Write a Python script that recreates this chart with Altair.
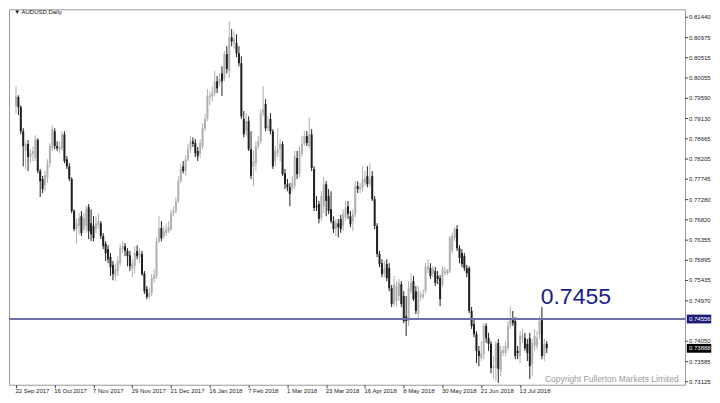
import altair as alt
import pandas as pd

# ---- data (AUDUSD daily, bar index 0 = 22 Sep 2017) ----
opens = [0.7941,0.7962,0.7939,0.7884,0.7839,0.7855,0.7825,0.7832,0.7823,0.7864,
         0.7793,0.7775,0.7761,0.7779,0.7811,0.7845,0.7884,0.7850,0.7843,0.7845,
         0.7877,0.7820,0.7804,0.7775,0.7702,0.7661,0.7668,0.7690,0.7661,0.7668,
         0.7711,0.7674,0.7668,0.7661,0.7670,0.7674,0.7645,0.7627,0.7615,0.7597,
         0.7579,0.7554,0.7565,0.7583,0.7615,0.7622,0.7611,0.7601,0.7570,0.7576,
         0.7611,0.7597,0.7604,0.7560,0.7524,0.7506,0.7515,0.7547,0.7554,0.7633,
         0.7663,0.7645,0.7652,0.7656,0.7661,0.7697,0.7702,0.7725,0.7770,0.7804,
         0.7793,0.7820,0.7843,0.7861,0.7857,0.7839,0.7832,0.7850,0.7891,0.7912,
         0.7962,0.7964,0.7971,0.7998,0.7994,0.8016,0.8003,0.8060,0.8021,0.8098,
         0.8085,0.8085,0.8062,0.8039,0.7912,0.7884,0.7907,0.7843,0.7804,0.7811,
         0.7850,0.7861,0.7925,0.7946,0.7891,0.7912,0.7884,0.7816,0.7834,0.7843,
         0.7855,0.7788,0.7763,0.7756,0.7754,0.7759,0.7823,0.7786,0.7832,0.7855,
         0.7873,0.7850,0.7877,0.7798,0.7713,0.7718,0.7686,0.7713,0.7763,0.7736,
         0.7706,0.7679,0.7661,0.7674,0.7684,0.7668,0.7688,0.7713,0.7690,0.7679,
         0.7695,0.7759,0.7752,0.7754,0.7766,0.7782,0.7763,0.7782,0.7729,0.7668,
         0.7604,0.7583,0.7560,0.7581,0.7572,0.7526,0.7490,0.7497,0.7508,0.7535,
         0.7508,0.7462,0.7451,0.7519,0.7542,0.7519,0.7467,0.7506,0.7506,0.7519,
         0.7570,0.7572,0.7558,0.7565,0.7554,0.7549,0.7535,0.7560,0.7560,0.7565,
         0.7611,0.7640,0.7661,0.7617,0.7606,0.7599,0.7572,0.7572,0.7474,0.7444,
         0.7421,0.7383,0.7367,0.7376,0.7440,0.7412,0.7399,0.7344,0.7344,0.7401,
         0.7337,0.7378,0.7378,0.7389,0.7440,0.7458,0.7451,0.7383,0.7371,0.7410,
         0.7412,0.7399,0.7412,0.7353,0.7394,0.7394,0.7421,0.7458,0.7371,0.7399]
highs = [0.7987,0.7966,0.7943,0.7891,0.7861,0.7864,0.7843,0.7850,0.7875,0.7868,
         0.7798,0.7782,0.7793,0.7820,0.7857,0.7898,0.7891,0.7861,0.7861,0.7884,
         0.7884,0.7827,0.7811,0.7779,0.7706,0.7684,0.7697,0.7702,0.7697,0.7715,
         0.7718,0.7706,0.7690,0.7690,0.7697,0.7679,0.7652,0.7633,0.7624,0.7606,
         0.7588,0.7583,0.7599,0.7627,0.7633,0.7629,0.7617,0.7611,0.7592,0.7622,
         0.7624,0.7617,0.7611,0.7565,0.7531,0.7528,0.7558,0.7570,0.7642,0.7690,
         0.7679,0.7668,0.7674,0.7679,0.7706,0.7713,0.7734,0.7782,0.7809,0.7816,
         0.7829,0.7855,0.7873,0.7870,0.7866,0.7848,0.7866,0.7902,0.7923,0.7980,
         0.7975,0.7987,0.8021,0.8010,0.8016,0.8032,0.8067,0.8078,0.8135,0.8117,
         0.8112,0.8105,0.8078,0.8055,0.7930,0.7925,0.7918,0.7884,0.7839,0.7861,
         0.7873,0.7934,0.7987,0.7957,0.7918,0.7925,0.7889,0.7850,0.7891,0.7866,
         0.7861,0.7798,0.7775,0.7766,0.7782,0.7839,0.7839,0.7850,0.7873,0.7884,
         0.7884,0.7916,0.7889,0.7804,0.7736,0.7725,0.7747,0.7779,0.7770,0.7752,
         0.7747,0.7690,0.7684,0.7684,0.7693,0.7706,0.7725,0.7725,0.7702,0.7706,
         0.7770,0.7770,0.7766,0.7804,0.7793,0.7804,0.7811,0.7793,0.7736,0.7674,
         0.7611,0.7592,0.7588,0.7592,0.7583,0.7533,0.7554,0.7542,0.7547,0.7542,
         0.7519,0.7508,0.7542,0.7560,0.7554,0.7531,0.7531,0.7519,0.7524,0.7583,
         0.7592,0.7583,0.7576,0.7574,0.7565,0.7556,0.7576,0.7574,0.7570,0.7645,
         0.7652,0.7665,0.7670,0.7624,0.7615,0.7606,0.7579,0.7576,0.7483,0.7456,
         0.7428,0.7394,0.7405,0.7446,0.7446,0.7424,0.7405,0.7371,0.7405,0.7410,
         0.7394,0.7394,0.7405,0.7451,0.7485,0.7474,0.7460,0.7394,0.7428,0.7433,
         0.7424,0.7410,0.7424,0.7410,0.7433,0.7428,0.7462,0.7483,0.7410,0.7405]
lows = [0.7925,0.7921,0.7877,0.7804,0.7798,0.7793,0.7811,0.7816,0.7816,0.7788,
        0.7734,0.7743,0.7747,0.7766,0.7802,0.7839,0.7843,0.7839,0.7834,0.7839,
        0.7811,0.7798,0.7770,0.7697,0.7656,0.7627,0.7649,0.7645,0.7656,0.7652,
        0.7638,0.7633,0.7633,0.7652,0.7661,0.7638,0.7615,0.7588,0.7583,0.7554,
        0.7544,0.7542,0.7554,0.7576,0.7606,0.7599,0.7576,0.7565,0.7551,0.7560,
        0.7592,0.7583,0.7554,0.7513,0.7501,0.7501,0.7508,0.7538,0.7547,0.7629,
        0.7633,0.7638,0.7645,0.7652,0.7656,0.7690,0.7697,0.7720,0.7766,0.7788,
        0.7782,0.7816,0.7834,0.7848,0.7825,0.7816,0.7823,0.7843,0.7884,0.7907,
        0.7943,0.7953,0.7964,0.7971,0.7987,0.7964,0.7998,0.8016,0.8005,0.8078,
        0.8071,0.8053,0.8032,0.7912,0.7870,0.7873,0.7839,0.7775,0.7759,0.7793,
        0.7843,0.7855,0.7918,0.7884,0.7884,0.7877,0.7798,0.7804,0.7825,0.7816,
        0.7782,0.7752,0.7747,0.7713,0.7747,0.7752,0.7775,0.7779,0.7827,0.7850,
        0.7850,0.7845,0.7793,0.7702,0.7702,0.7674,0.7679,0.7697,0.7690,0.7695,
        0.7674,0.7652,0.7645,0.7642,0.7652,0.7656,0.7679,0.7684,0.7665,0.7656,
        0.7688,0.7743,0.7743,0.7747,0.7759,0.7756,0.7756,0.7725,0.7661,0.7597,
        0.7574,0.7551,0.7551,0.7542,0.7519,0.7483,0.7485,0.7485,0.7497,0.7483,
        0.7446,0.7417,0.7440,0.7513,0.7497,0.7467,0.7456,0.7497,0.7501,0.7513,
        0.7560,0.7547,0.7551,0.7531,0.7535,0.7485,0.7528,0.7556,0.7556,0.7560,
        0.7606,0.7633,0.7611,0.7583,0.7574,0.7565,0.7551,0.7469,0.7433,0.7414,
        0.7355,0.7348,0.7360,0.7364,0.7401,0.7383,0.7332,0.7319,0.7314,0.7310,
        0.7326,0.7371,0.7371,0.7383,0.7433,0.7440,0.7364,0.7364,0.7355,0.7401,
        0.7383,0.7360,0.7319,0.7326,0.7383,0.7387,0.7410,0.7364,0.7360,0.7378]
closes = [0.7964,0.7939,0.7884,0.7850,0.7855,0.7825,0.7834,0.7839,0.7866,0.7793,
          0.7770,0.7752,0.7784,0.7811,0.7850,0.7889,0.7850,0.7845,0.7848,0.7877,
          0.7816,0.7804,0.7775,0.7702,0.7661,0.7674,0.7686,0.7652,0.7686,0.7706,
          0.7656,0.7649,0.7640,0.7674,0.7679,0.7645,0.7622,0.7606,0.7592,0.7574,
          0.7558,0.7570,0.7588,0.7617,0.7622,0.7611,0.7599,0.7576,0.7583,0.7606,
          0.7599,0.7606,0.7558,0.7519,0.7506,0.7515,0.7549,0.7556,0.7633,0.7663,
          0.7640,0.7656,0.7661,0.7665,0.7697,0.7702,0.7725,0.7770,0.7798,0.7793,
          0.7820,0.7843,0.7861,0.7855,0.7834,0.7827,0.7857,0.7891,0.7912,0.7964,
          0.7966,0.7971,0.7998,0.7982,0.8003,0.7998,0.8060,0.8026,0.8098,0.8089,
          0.8094,0.8062,0.8039,0.7918,0.7877,0.7907,0.7843,0.7782,0.7816,0.7850,
          0.7861,0.7925,0.7934,0.7891,0.7896,0.7884,0.7804,0.7839,0.7843,0.7855,
          0.7786,0.7763,0.7756,0.7741,0.7766,0.7827,0.7786,0.7839,0.7855,0.7873,
          0.7857,0.7877,0.7800,0.7709,0.7711,0.7684,0.7736,0.7763,0.7725,0.7702,
          0.7679,0.7661,0.7674,0.7665,0.7661,0.7695,0.7709,0.7695,0.7672,0.7695,
          0.7759,0.7752,0.7756,0.7775,0.7777,0.7763,0.7775,0.7729,0.7668,0.7604,
          0.7581,0.7558,0.7570,0.7549,0.7526,0.7490,0.7535,0.7531,0.7538,0.7490,
          0.7451,0.7451,0.7526,0.7538,0.7501,0.7474,0.7519,0.7510,0.7513,0.7576,
          0.7576,0.7554,0.7570,0.7538,0.7547,0.7501,0.7570,0.7565,0.7567,0.7640,
          0.7645,0.7661,0.7617,0.7595,0.7581,0.7572,0.7560,0.7474,0.7440,0.7421,
          0.7383,0.7371,0.7378,0.7440,0.7412,0.7399,0.7344,0.7348,0.7399,0.7342,
          0.7383,0.7385,0.7394,0.7440,0.7458,0.7446,0.7371,0.7378,0.7417,0.7419,
          0.7389,0.7378,0.7348,0.7401,0.7417,0.7412,0.7451,0.7371,0.7399,0.7389]

date_labels = ["22 Sep 2017", "16 Oct 2017", "7 Nov 2017", "29 Nov 2017", "21 Dec 2017",
               "16 Jan 2018", "7 Feb 2018", "1 Mar 2018", "23 Mar 2018", "16 Apr 2018",
               "8 May 2018", "30 May 2018", "21 Jun 2018", "13 Jul 2018"]
bars_per_label = 16
price_ticks = [0.81440, 0.80975, 0.80515, 0.80055, 0.79590, 0.79130, 0.78665, 0.78205,
               0.77745, 0.77280, 0.76820, 0.76355, 0.75895, 0.75435, 0.74970, 0.74050,
               0.73585, 0.73125]
level = 0.74556
last_price = 0.73888
level_text = "0.7455"
symbol_text = "\u25BC AUDUSD,Daily"
copyright_text = "Copyright Fullerton Markets Limited"

FONT = "Liberation Sans"
W, H = 677, 376

df = pd.DataFrame({"i": list(range(len(closes))), "o": opens, "h": highs, "l": lows, "c": closes})
df["dir"] = ["up" if c >= o else "down" for o, c in zip(df["o"], df["c"])]

xscale = alt.Scale(domain=[-0.81, 274.0], nice=False, zero=False)
yscale = alt.Scale(domain=[0.73057, 0.81622], nice=False, zero=False)

label_array = "[" + ",".join("'" + s + "'" for s in date_labels) + "]"
xaxis = alt.Axis(values=[k * bars_per_label for k in range(len(date_labels))],
                 labelExpr=label_array + "[round(datum.value/" + str(bars_per_label) + ")]",
                 orient="bottom", domain=False, grid=False, ticks=True, tickSize=3,
                 tickColor="#444", labelAlign="left", labelPadding=0, labelFontSize=6,
                 labelFont=FONT, labelColor="#222", labelOverlap=False, labelFlush=False,
                 labelBound=False, title=None, labelOffset=-1)


def X(field):
    return alt.X(field, scale=xscale, axis=xaxis)


def Y(field):
    return alt.Y(field, scale=yscale, axis=None)


base = alt.Chart(df)
wicks = base.mark_rule(strokeWidth=1).encode(
    x=X("i:Q"), y=Y("l:Q"), y2="h:Q",
    color=alt.Color("dir:N", scale=alt.Scale(domain=["up", "down"], range=["#b0b0b0", "#202020"]),
                    legend=None),
)
bodies = base.mark_bar(size=2).encode(
    x=X("i:Q"), y=Y("o:Q"), y2="c:Q",
    color=alt.Color("dir:N", scale=alt.Scale(domain=["up", "down"], range=["#b9b9b9", "#000000"]),
                    legend=None),
)

# right-hand price scale drawn as ticks + text from the tick list
tick_df = pd.DataFrame({"p": price_ticks, "t": [f"{v:.5f}" for v in price_ticks]})
tick_marks = alt.Chart(tick_df).mark_rule(color="#444", strokeWidth=1).encode(
    x=alt.value(W), x2=alt.value(W + 3), y=Y("p:Q"))
tick_text = alt.Chart(tick_df).mark_text(align="left", baseline="middle", fontSize=6, font=FONT,
                                         color="#222").encode(
    x=alt.value(W + 4), y=Y("p:Q"), text="t:N")

lvl_df = pd.DataFrame({"p": [level], "t": [f"{level:.5f}"]})
level_rule = alt.Chart(lvl_df).mark_rule(color="#7070a8", strokeWidth=2).encode(y=Y("p:Q"))

box_shape = "M-1,-0.36L1,-0.36L1,0.36L-1,0.36Z"
level_box = alt.Chart(lvl_df).mark_point(shape=box_shape, filled=True, size=600, opacity=1,
                                         color="#1c1c78").encode(
    x=alt.value(W + 14), y=Y("p:Q"))
level_lab = alt.Chart(lvl_df).mark_text(align="left", baseline="middle", fontSize=6, font=FONT,
                                        color="white").encode(
    x=alt.value(W + 4), y=Y("p:Q"), text="t:N")

last_df = pd.DataFrame({"p": [last_price], "t": [f"{last_price:.5f}"]})
last_box = alt.Chart(last_df).mark_point(shape=box_shape, filled=True, size=600, opacity=1,
                                         color="#000000").encode(
    x=alt.value(W + 14), y=Y("p:Q"))
last_lab = alt.Chart(last_df).mark_text(align="left", baseline="middle", fontSize=6, font=FONT,
                                        color="white").encode(
    x=alt.value(W + 4), y=Y("p:Q"), text="t:N")

ann_df = pd.DataFrame({"i": [231.0], "p": [0.74902], "t": [level_text]})
big_text = alt.Chart(ann_df).mark_text(align="center", baseline="alphabetic", fontSize=23,
                                       font=FONT, color="#1a1a8a").encode(
    x=X("i:Q"), y=Y("p:Q"), text="t:N")

sym_df = pd.DataFrame({"i": [-0.7], "p": [0.81554], "t": [symbol_text]})
sym_text = alt.Chart(sym_df).mark_text(align="left", baseline="middle", fontSize=6, font=FONT,
                                       color="#111").encode(
    x=X("i:Q"), y=Y("p:Q"), text="t:N")

cp_df = pd.DataFrame({"i": [273.4], "p": [0.73125], "t": [copyright_text]})
cp_text = alt.Chart(cp_df).mark_text(align="right", baseline="alphabetic", fontSize=8.5, font=FONT,
                                     color="#9a9a9a").encode(
    x=X("i:Q"), y=Y("p:Q"), text="t:N")

chart = alt.layer(wicks, bodies, level_rule, big_text, sym_text, cp_text, tick_marks, tick_text,
                  level_box, level_lab, last_box, last_lab).properties(
    width=W, height=H, padding={"left": 0, "top": 0, "right": 0, "bottom": 0},
    background="white",
).configure_view(stroke="#9a9a9a", strokeWidth=1)

chart.save("out.html", embed_options={"renderer": "svg", "actions": False})
